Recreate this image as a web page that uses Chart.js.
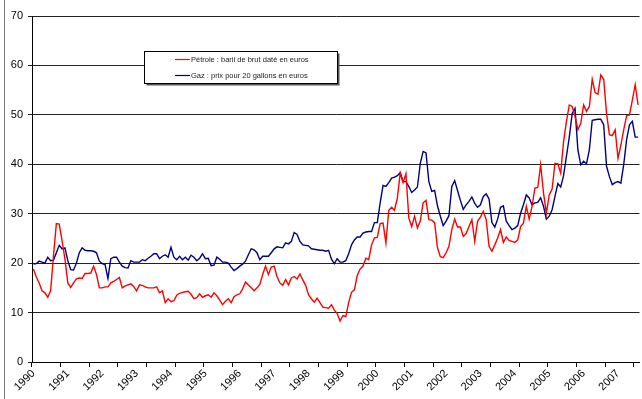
<!DOCTYPE html>
<html>
<head>
<meta charset="utf-8">
<script src="https://cdn.jsdelivr.net/npm/chart.js@4/dist/chart.umd.min.js"></script>
<style>
  html, body { margin: 0; padding: 0; background: #fff; }
  #wrap { position: relative; width: 642px; height: 399px; }
</style>
</head>
<body>
<div id="wrap"><canvas id="c" width="642" height="399"></canvas></div>
<script>
// Années affichées sous l'axe (une étiquette tous les 12 mois)
const yearLabels = ['1990','1991','1992','1993','1994','1995','1996','1997','1998',
  '1999','2000','2001','2002','2003','2004','2005','2006','2007'];

// Pétrole : baril de brut daté en euros (mensuel, janv. 1990 -> août 2007)
const petrole = [
  18.8,17.2,16.0,14.4,14.0,13.1,14.4,21.5,28.0,27.9,24.5,20.8,
  16.0,15.1,16.0,16.8,17.0,16.9,17.9,17.9,18.0,19.4,17.7,15.0,
  15.0,15.2,15.2,16.0,16.3,16.7,17.1,15.0,15.4,15.6,15.8,15.3,
  14.4,15.6,15.5,15.2,15.0,15.0,15.0,15.2,14.0,14.4,12.0,12.8,
  12.2,12.4,13.5,13.9,14.1,14.2,14.3,13.7,12.8,13.0,13.8,13.1,
  13.4,13.6,13.1,14.0,13.4,12.5,11.6,12.3,12.8,12.0,13.2,13.6,
  13.8,14.8,16.2,15.6,15.0,14.4,15.0,15.7,17.7,19.4,17.7,19.2,
  19.4,17.3,16.0,15.5,16.7,15.6,17.0,17.3,16.8,17.8,16.6,15.5,
  13.6,12.8,12.1,12.9,12.0,11.1,11.0,10.9,11.6,10.5,9.8,8.3,
  9.4,9.2,12.0,14.1,14.6,17.5,18.8,19.4,21.0,20.7,23.7,25.1,
  25.2,28.0,28.1,24.1,30.7,31.3,30.7,33.2,38.2,36.3,38.1,29.1,
  27.4,29.5,27.1,28.5,32.2,32.7,28.8,28.7,28.2,23.1,21.3,21.1,
  22.1,23.4,26.8,28.9,27.3,27.3,25.4,26.0,27.4,28.8,24.4,28.5,
  29.3,30.5,28.8,23.4,22.4,23.7,25.1,26.8,24.2,25.3,24.6,24.4,
  24.2,24.7,27.4,28.1,31.5,28.9,31.5,35.2,35.3,39.9,34.2,30.1,
  33.8,35.0,40.2,40.1,38.2,44.6,48.7,52.0,51.7,49.7,47.0,48.3,
  52.0,50.7,51.7,57.2,54.5,54.2,58.1,57.2,50.3,46.0,45.8,47.0,
  41.2,43.9,47.0,49.8,50.0,53.0,56.1,52.0
];

// Gaz : prix pour 20 gallons en euros (mensuel, même période)
const gaz = [
  19.8,19.9,20.4,20.2,20.0,21.2,20.5,20.6,22.1,23.6,22.9,23.1,
  20.5,18.7,18.6,20.0,22.1,23.1,22.6,22.5,22.5,22.4,22.1,20.4,
  19.9,19.7,16.9,20.9,21.2,21.2,20.2,19.4,19.1,19.0,20.5,20.2,
  20.2,20.2,20.7,20.5,21.0,21.4,21.9,21.9,20.9,21.4,21.7,21.2,
  23.2,21.2,20.7,21.4,20.7,21.2,20.6,21.6,21.2,20.5,21.0,21.9,
  20.9,21.0,19.5,19.6,21.2,20.8,20.2,20.2,20.0,19.2,18.5,18.9,
  19.4,19.8,20.4,21.7,22.9,22.7,22.1,20.7,21.4,21.4,21.4,22.1,
  22.9,23.3,23.2,23.1,24.1,23.9,24.4,26.2,25.8,24.4,23.7,23.6,
  23.5,22.9,22.8,22.7,22.6,22.6,22.4,22.6,20.8,19.9,20.9,20.2,
  20.2,20.5,21.9,23.7,24.7,25.3,25.3,26.1,26.3,26.4,26.4,28.2,
  28.2,32.2,35.7,35.5,36.3,37.2,37.4,37.7,38.3,36.5,36.5,35.5,
  34.3,34.8,35.4,40.2,42.6,42.3,36.5,34.5,34.7,31.6,29.5,27.6,
  28.5,29.6,35.5,36.7,34.7,32.7,30.9,31.8,32.5,33.4,32.1,31.3,
  31.8,33.5,34.0,33.0,28.2,27.3,28.9,31.3,31.6,28.5,27.6,26.8,
  27.1,27.6,30.1,31.8,33.8,33.2,31.8,32.2,32.3,33.2,31.5,28.9,
  29.5,30.8,33.5,36.1,35.4,37.7,41.6,45.5,50.3,51.3,42.9,39.9,
  40.6,40.1,42.9,48.9,49.0,49.1,49.1,48.0,39.6,37.5,35.9,36.3,
  36.5,36.2,40.0,45.0,48.0,48.7,45.5,45.5
];

// Une catégorie par mois
const months = petrole.map((_, k) =>
  (1990 + Math.floor(k / 12)) + '-' + String(k % 12 + 1).padStart(2, '0'));

const FONT = "'Liberation Sans', Arial, sans-serif";

// Cadre gauche et légende encadrée avec ombre, dessinés sur le canevas
const decor = {
  id: 'decor',
  beforeDraw(chart) {
    const ctx = chart.ctx;
    ctx.save();
    ctx.strokeStyle = '#777';
    ctx.lineWidth = 1;
    ctx.beginPath();
    ctx.moveTo(4.5, 0);
    ctx.lineTo(4.5, chart.height);
    ctx.stroke();
    ctx.restore();
  },
  afterDraw(chart) {
    const ctx = chart.ctx;
    const bx = 144.5, by = 51.5, bw = 193, bh = 32;
    ctx.save();
    // ombre
    ctx.fillStyle = '#555';
    ctx.fillRect(bx + 2, by + 2, bw, bh);
    ctx.fillStyle = '#fff';
    ctx.fillRect(bx, by, bw, bh);
    ctx.strokeStyle = '#000';
    ctx.lineWidth = 1;
    ctx.strokeRect(bx, by, bw, bh);
    ctx.font = '7.5px ' + FONT;
    ctx.textBaseline = 'middle';
    ctx.textAlign = 'left';
    const rows = [59.5, 75.5];
    chart.data.datasets.forEach((ds, k) => {
      const y = rows[k];
      ctx.strokeStyle = ds.borderColor;
      ctx.lineWidth = 1.2;
      ctx.beginPath();
      ctx.moveTo(175, y);
      ctx.lineTo(190, y);
      ctx.stroke();
      ctx.fillStyle = '#222';
      ctx.fillText(ds.label, 191, y);
    });
    ctx.restore();
  }
};

new Chart(document.getElementById('c'), {
  type: 'line',
  data: {
    labels: months,
    datasets: [
      { label: 'Pétrole : baril de brut daté en euros', data: petrole,
        borderColor: '#ff0000', borderWidth: 1.4, pointRadius: 0, tension: 0, fill: false },
      { label: 'Gaz : prix pour 20 gallons en euros', data: gaz,
        borderColor: '#000080', borderWidth: 1.4, pointRadius: 0, tension: 0, fill: false }
    ]
  },
  options: {
    responsive: false,
    animation: false,
    devicePixelRatio: 1,
    layout: { padding: { top: 16, right: 2.5, left: 0, bottom: 0 } },
    plugins: { legend: { display: false }, tooltip: { enabled: false } },
    scales: {
      x: {
        type: 'category',
        offset: true,
        grid: {
          offset: true,
          drawOnChartArea: false,
          drawTicks: true,
          tickLength: 5,
          color: (c) => (c.index !== undefined && c.index % 10 === 0) ? '#000' : 'rgba(0,0,0,0)'
        },
        border: { display: true, color: '#000', width: 1 },
        ticks: {
          autoSkip: false,
          minRotation: 45,
          maxRotation: 45,
          padding: 0,
          color: '#000',
          font: { family: FONT, size: 11 },
          callback: (v, i) => (i % 12 === 0 ? yearLabels[i / 12] : '')
        },
        afterFit: (s) => { s.height = 37; s.paddingLeft = 0; s.paddingRight = 0; }
      },
      y: {
        min: 0,
        max: 70,
        grid: { color: '#222', lineWidth: 1, tickLength: 4, drawTicks: true },
        border: { display: true, color: '#000', width: 1 },
        ticks: {
          stepSize: 10,
          padding: 5,
          color: '#000',
          font: { family: FONT, size: 11 }
        },
        afterFit: (s) => { s.width = 32; }
      }
    }
  },
  plugins: [decor]
});
</script>
</body>
</html>
